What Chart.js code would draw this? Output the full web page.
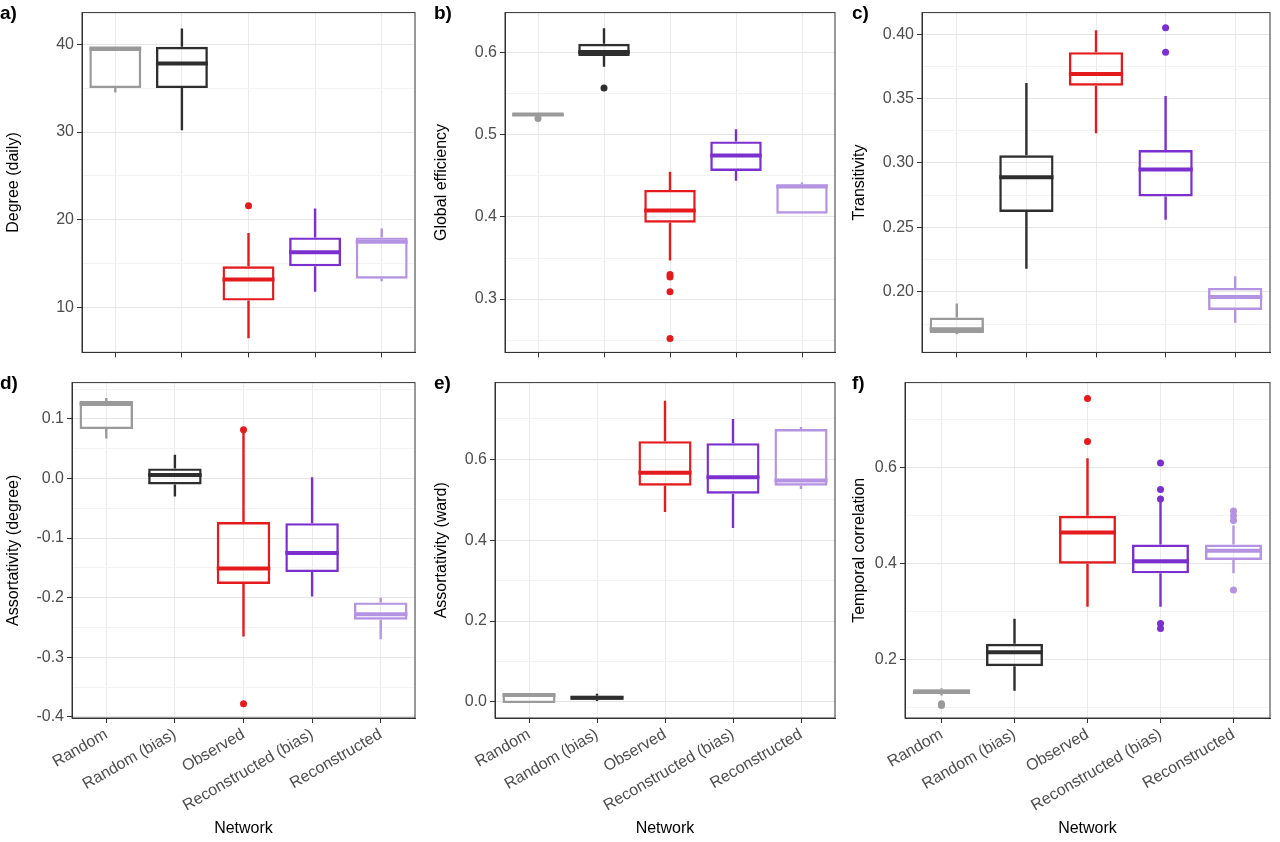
<!DOCTYPE html>
<html><head><meta charset="utf-8">
<script src="https://cdn.jsdelivr.net/npm/chart.js@4"></script>
<style>
body{margin:0;background:#fff;width:1280px;height:842px;position:relative;overflow:hidden;font-family:Arial,"Liberation Sans",sans-serif}
.p{position:absolute}
.lt{position:absolute;font:bold 19px "Liberation Sans",Arial,sans-serif;color:#000}
</style></head><body>

<script>
// ==================== Data ====================
const CATEGORIES = ['Random', 'Random (bias)', 'Observed', 'Reconstructed (bias)', 'Reconstructed'];
const COLORS = ['#9a9a9a', '#2e2e2e', '#e41a1c', '#7b2fcf', '#b493e3'];

// [low whisker, q1, median, q3, high whisker] per category
const degreeStats = [[34.5, 35, 39.5, 39.5, 39.6], [30.2, 35, 37.8, 39.7, 41.8], [6.5, 10.8, 13.2, 14.7, 18.5], [11.8, 14.7, 16.3, 18, 21.3], [13, 13.3, 17.5, 18, 19]];
const degreeOut = [[2, 21.6]];
const effStats = [[0.522, 0.523, 0.525, 0.526, 0.526], [0.583, 0.596, 0.601, 0.611, 0.63], [0.347, 0.393, 0.408, 0.433, 0.455], [0.444, 0.456, 0.475, 0.492, 0.507], [0.404, 0.404, 0.437, 0.44, 0.442]];
const effOut = [[0, 0.52], [1, 0.557], [2, 0.33], [2, 0.327], [2, 0.309], [2, 0.252]];
const transStats = [[0.167, 0.168, 0.171, 0.18, 0.191], [0.218, 0.262, 0.289, 0.306, 0.362], [0.323, 0.36, 0.369, 0.386, 0.403], [0.256, 0.274, 0.295, 0.31, 0.352], [0.176, 0.186, 0.196, 0.203, 0.212]];
const transOut = [[3, 0.386], [3, 0.405]];
const assDegStats = [[0.067, 0.083, 0.125, 0.13, 0.135], [-0.03, -0.01, 0.006, 0.017, 0.04], [-0.265, -0.177, -0.151, -0.073, 0.078], [-0.198, -0.157, -0.125, -0.075, 0.002], [-0.27, -0.237, -0.228, -0.208, -0.2]];
const assDegOut = [[2, 0.082], [2, -0.378]];
const assWardStats = [[0, -0.003, 0.017, 0.02, 0.02], [0.002, 0.005, 0.01, 0.015, 0.02], [0.47, 0.535, 0.567, 0.645, 0.745], [0.43, 0.515, 0.556, 0.64, 0.7], [0.527, 0.535, 0.548, 0.675, 0.68]];
const assWardOut = [];
const tempStats = [[0.125, 0.128, 0.133, 0.138, 0.14], [0.135, 0.186, 0.215, 0.233, 0.285], [0.31, 0.4, 0.465, 0.5, 0.62], [0.31, 0.38, 0.405, 0.44, 0.53], [0.38, 0.408, 0.427, 0.44, 0.48]];
const tempOut = [[0, 0.108], [0, 0.104], [2, 0.655], [2, 0.745], [3, 0.535], [3, 0.555], [3, 0.61], [3, 0.275], [3, 0.265], [4, 0.49], [4, 0.5], [4, 0.51], [4, 0.345]];

const PANELS = [
    { id: 'a', title: 'Degree (daily)', stats: degreeStats, out: degreeOut, min: 4.9, max: 43.6, step: 5, major: 10, dec: 0, left: 0, width: 420, plotLeft: 82, plotRight: 415, top: 0, bottom: false },
    { id: 'b', title: 'Global efficiency', stats: effStats, out: effOut, min: 0.235, max: 0.649, step: 0.05, major: 0.1, dec: 1, left: 428, width: 412, plotLeft: 505, plotRight: 835, top: 0, bottom: false },
    { id: 'c', title: 'Transitivity', stats: transStats, out: transOut, min: 0.153, max: 0.4167, step: 0.025, major: 0.05, dec: 2, left: 846, width: 430, plotLeft: 922, plotRight: 1270, top: 0, bottom: false },
    { id: 'd', title: 'Assortativity (degree)', stats: assDegStats, out: assDegOut, min: -0.402, max: 0.161, step: 0.05, major: 0.1, dec: 1, left: 0, width: 420, plotLeft: 72, plotRight: 415, top: 370, bottom: true },
    { id: 'e', title: 'Assortativity (ward)', stats: assWardStats, out: assWardOut, min: -0.04, max: 0.79, step: 0.1, major: 0.2, dec: 1, left: 428, width: 412, plotLeft: 495, plotRight: 835, top: 370, bottom: true },
    { id: 'f', title: 'Temporal correlation', stats: tempStats, out: tempOut, min: 0.078, max: 0.778, step: 0.1, major: 0.2, dec: 1, left: 846, width: 430, plotLeft: 905, plotRight: 1270, top: 370, bottom: true }
];

// ==================== Box plot extras ====================
const boxPlugin = {
    id: 'boxExtras',
    afterDatasetsDraw(chart) {
        const stats = chart.options.plugins.boxExtras.stats;
        const meta = chart.getDatasetMeta(0);
        const y = chart.scales.y;
        const ctx = chart.ctx;
        ctx.save();
        meta.data.forEach((bar, i) => {
            const [lo, q1, med, q3, hi] = stats[i];
            ctx.strokeStyle = COLORS[i];
            ctx.lineWidth = 2.4;
            ctx.beginPath();
            ctx.moveTo(bar.x, y.getPixelForValue(lo)); ctx.lineTo(bar.x, y.getPixelForValue(q1));
            ctx.moveTo(bar.x, y.getPixelForValue(q3)); ctx.lineTo(bar.x, y.getPixelForValue(hi));
            ctx.stroke();
            ctx.lineWidth = 4;
            ctx.beginPath();
            ctx.moveTo(bar.x - bar.width / 2, y.getPixelForValue(med));
            ctx.lineTo(bar.x + bar.width / 2, y.getPixelForValue(med));
            ctx.stroke();
        });
        ctx.restore();
    }
};

function isMajor(v, major) {
    const r = v / major;
    return Math.abs(r - Math.round(r)) < 1e-6;
}

PANELS.forEach(p => {
    const h = p.bottom ? 472 : 365;
    const wrap = document.createElement('div');
    wrap.className = 'p';
    wrap.style.cssText = `left:${p.left}px;top:${p.top}px;width:${p.width}px;height:${h}px`;
    const cv = document.createElement('canvas');
    wrap.appendChild(cv);
    document.body.appendChild(wrap);
    const lt = document.createElement('div');
    lt.className = 'lt';
    lt.textContent = p.id + ')';
    lt.style.cssText = `left:${p.left + (p.id === 'a' || p.id === 'd' ? 0 : 6)}px;top:${p.top + 2}px`;
    document.body.appendChild(lt);

    const yWidth = p.plotLeft - p.left;
    const rightPad = p.left + p.width - p.plotRight;
    const xHeight = p.bottom ? 472 - 10 - 338 : 365 - 10 - 348;

    new Chart(cv, {
        type: 'bar',
        data: {
            labels: CATEGORIES,
            datasets: [{
                data: p.stats.map(s => [s[1], s[3]]),
                backgroundColor: 'rgba(255,255,255,0)',
                borderColor: COLORS,
                borderWidth: 2.4,
                borderSkipped: false,
                barPercentage: 0.78,
                categoryPercentage: 1
            }, {
                type: 'line',
                data: p.out.map(o => ({ x: CATEGORIES[o[0]], y: o[1] })),
                showLine: false,
                pointRadius: 3.5,
                pointBorderWidth: 0,
                pointBackgroundColor: p.out.map(o => COLORS[o[0]])
            }]
        },
        options: {
            responsive: true, maintainAspectRatio: false, animation: false,
            layout: { padding: { top: 10, right: rightPad, left: 0, bottom: 0 } },
            plugins: { legend: { display: false }, tooltip: { enabled: false }, boxExtras: { stats: p.stats } },
            scales: {
                x: {
                    grid: { offset: false, color: '#ebebeb', tickColor: '#333', tickLength: 5, drawTicks: true },
                    border: { color: '#333', width: 1 },
                    ticks: {
                        display: p.bottom, color: '#4d4d4d', font: { size: 16, family: 'Arial, "Liberation Sans"' },
                        minRotation: 30, maxRotation: 30, padding: 2
                    },
                    title: { display: p.bottom, text: 'Network', color: '#000', font: { size: 16, family: 'Arial, "Liberation Sans"' }, padding: { top: 4 } },
                    afterFit: s => { s.height = xHeight; }
                },
                y: {
                    min: p.min, max: p.max,
                    afterBuildTicks: s => {
                        const t = [];
                        const start = Math.ceil(p.min / p.step - 1e-9);
                        for (let k = start; k * p.step <= p.max + 1e-9; k++) t.push({ value: +(k * p.step).toFixed(6) });
                        s.ticks = t;
                    },
                    grid: {
                        color: c => isMajor(c.tick.value, p.major) ? '#e6e6e6' : '#f3f3f3',
                        tickColor: c => isMajor(c.tick.value, p.major) ? '#333' : 'rgba(0,0,0,0)',
                        tickLength: 5
                    },
                    border: { color: '#333', width: 1 },
                    ticks: {
                        autoSkip: false, color: '#4d4d4d', font: { size: 16, family: 'Arial, "Liberation Sans"' }, padding: 3,
                        callback: v => isMajor(v, p.major) ? v.toFixed(p.dec) : ''
                    },
                    title: { display: true, text: p.title, color: '#000', font: { size: 16, family: 'Arial, "Liberation Sans"' }, padding: { bottom: 4 } },
                    afterFit: s => { s.width = yWidth; }
                }
            }
        },
        plugins: [boxPlugin, {
            id: 'frame',
            afterDraw(chart) {
                const a = chart.chartArea, ctx = chart.ctx;
                ctx.save(); ctx.strokeStyle = '#333'; ctx.lineWidth = 1;
                ctx.strokeRect(a.left, a.top, a.right - a.left, a.bottom - a.top);
                ctx.restore();
            }
        }]
    });
});
</script>
</body></html>
